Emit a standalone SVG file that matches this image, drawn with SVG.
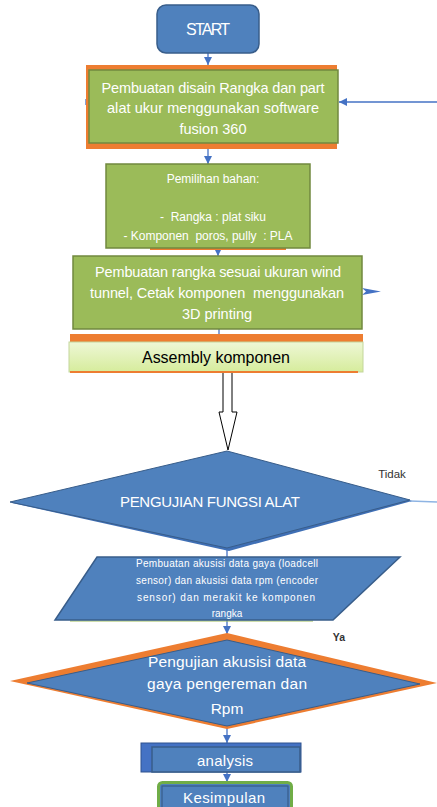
<svg xmlns="http://www.w3.org/2000/svg" width="437" height="807" viewBox="0 0 437 807">
<defs>
<style>
.w{fill:#ffffff;font-family:"Liberation Sans",Arial,sans-serif;text-anchor:middle}
.k{fill:#000000;font-family:"Liberation Sans",Arial,sans-serif;text-anchor:middle}
.g{fill:#333333;font-family:"Liberation Sans",Arial,sans-serif;text-anchor:middle}
.ln{stroke:#4472c4;stroke-width:1.3;fill:none}
.blue{fill:#4f81bd;stroke:#385d8a;stroke-width:1.5}
.green{fill:#9bbb59;stroke:#71893f;stroke-width:1.5}
.orange{fill:#ed7d31}
</style>
<marker id="ah" viewBox="0 0 10 10" refX="10" refY="5" markerWidth="8" markerHeight="8" markerUnits="userSpaceOnUse" orient="auto">
<path d="M0,0 L10,5 L0,10 z" fill="#4472c4"/>
</marker>
<linearGradient id="lg" x1="0" y1="0" x2="0" y2="1">
<stop offset="0" stop-color="#eef7d6"/>
<stop offset="1" stop-color="#d6ec9c"/>
</linearGradient>
</defs>

<g id="connectors">
<line class="ln" x1="208" y1="53" x2="208" y2="65" marker-end="url(#ah)"/>
<line class="ln" x1="437" y1="102" x2="339" y2="102" marker-end="url(#ah)"/>
<line class="ln" x1="86" y1="99" x2="86" y2="105"/>
<line class="ln" x1="208" y1="147" x2="208" y2="164" marker-end="url(#ah)"/>
<line class="ln" x1="218" y1="248" x2="218" y2="256" marker-end="url(#ah)"/>
<path d="M362,288 L381,291.5 L362,295 L366,291.5 z" fill="#4472c4"/>
<line class="ln" x1="219" y1="329" x2="219" y2="342" marker-end="url(#ah)"/>
<path d="M223,372 L232,372 L232,412 L237,412 L228,450 L219,412 L223,412 z" fill="#ffffff" stroke="#000000" stroke-width="1"/>
<line x1="410" y1="501" x2="437" y2="502" stroke="#8eb4e3" stroke-width="1.5"/>
<line class="ln" x1="227" y1="550" x2="227" y2="634" marker-end="url(#ah)"/>
<line class="ln" x1="227" y1="728" x2="227" y2="743" marker-end="url(#ah)"/>
<line class="ln" x1="227" y1="772" x2="227" y2="782" marker-end="url(#ah)"/>
</g>

<g id="start">
<rect x="157" y="5" width="102" height="48" rx="9" class="blue"/>
<text x="208" y="35" class="w" font-size="16" textLength="44">START</text>
</g>

<g id="desain">
<rect x="86" y="65" width="251" height="84" class="orange"/>
<rect x="89" y="70" width="249" height="73" class="green"/>
<text x="213" y="93" class="w" font-size="14.5" textLength="223">Pembuatan disain Rangka dan part</text>
<text x="213" y="113" class="w" font-size="14.5" textLength="212">alat ukur menggunakan software</text>
<text x="213" y="134" class="w" font-size="14.5">fusion 360</text>
</g>

<g id="bahan">
<rect x="150" y="246" width="136" height="4" class="orange"/>
<rect x="106" y="164" width="204" height="84" class="green"/>
<text x="213" y="183" class="w" font-size="12">Pemilihan bahan:</text>
<text x="213" y="221" class="w" font-size="12" xml:space="preserve">-  Rangka : plat siku</text>
<text x="208" y="240" class="w" font-size="12" textLength="169" xml:space="preserve">- Komponen  poros, pully  : PLA</text>
</g>

<g id="rangka">
<rect x="73" y="256" width="289" height="73" class="green"/>
<text x="218" y="277" class="w" font-size="14.5" textLength="246">Pembuatan rangka sesuai ukuran wind</text>
<text x="217" y="298" class="w" font-size="14.5" textLength="254" xml:space="preserve">tunnel, Cetak komponen  menggunakan</text>
<text x="217" y="319" class="w" font-size="14.5">3D printing</text>
</g>

<g id="assembly">
<rect x="70" y="334" width="293" height="10" class="orange"/>
<rect x="69" y="342" width="294" height="30" fill="url(#lg)" stroke="#c3d69b" stroke-width="1"/>
<line x1="70" y1="372" x2="358" y2="372" stroke="#ed7d31" stroke-width="2"/>
<text x="216" y="363" class="k" font-size="16" textLength="148">Assembly komponen</text>
</g>

<g id="pengujian-fungsi">
<polygon points="229,452 412,501 229,551 12,503" fill="#3f6fb5"/>
<polygon points="227,451 410,500 227,548 10,502" fill="#4f81bd" stroke="#385d8a" stroke-width="1"/>
<text x="210" y="507" class="w" font-size="15" textLength="180">PENGUJIAN FUNGSI ALAT</text>
<text x="392" y="478" class="g" font-size="11.5">Tidak</text>
</g>

<g id="akusisi">
<line x1="70" y1="621" x2="313" y2="621" stroke="#9bbb59" stroke-width="1"/>
<polygon points="97,557 400,557 333,620 55,620" class="blue"/>
<text x="227" y="567" class="w" font-size="10" textLength="182">Pembuatan akusisi data gaya (loadcell</text>
<text x="227" y="584" class="w" font-size="10" textLength="182">sensor) dan akusisi data rpm  (encoder</text>
<text x="226" y="601" class="w" font-size="10" textLength="178">sensor) dan merakit ke komponen</text>
<text x="227" y="617" class="w" font-size="10">rangka</text>
<text x="339" y="641" class="g" font-size="10.5" font-weight="bold">Ya</text>
</g>

<g id="pengujian-akusisi">
<polygon points="227,633 437,683 227,729 10,681" class="orange"/>
<polygon points="227,640 420,684 227,726 27,683" fill="#4f81bd" stroke="#385d8a" stroke-width="1"/>
<text x="227" y="667" class="w" font-size="15.5" textLength="158">Pengujian akusisi data</text>
<text x="227" y="689" class="w" font-size="15.5" textLength="160">gaya pengereman dan</text>
<text x="227" y="714" class="w" font-size="15.5">Rpm</text>
</g>

<g id="analysis">
<rect x="141" y="743" width="160" height="29" fill="#4472c4" stroke="#2f528f" stroke-width="1"/>
<rect x="152" y="747" width="148" height="25" class="blue"/>
<text x="225" y="766" class="w" font-size="15" textLength="56">analysis</text>
</g>

<g id="kesimpulan">
<rect x="158.5" y="782.5" width="133" height="30" rx="4" fill="#4f81bd" stroke="#70ad47" stroke-width="3"/>
<rect x="162" y="786" width="126" height="26" fill="#4f81bd" stroke="#385d8a" stroke-width="1.2"/>
<text x="224" y="803" class="w" font-size="15" textLength="82">Kesimpulan</text>
</g>
</svg>
